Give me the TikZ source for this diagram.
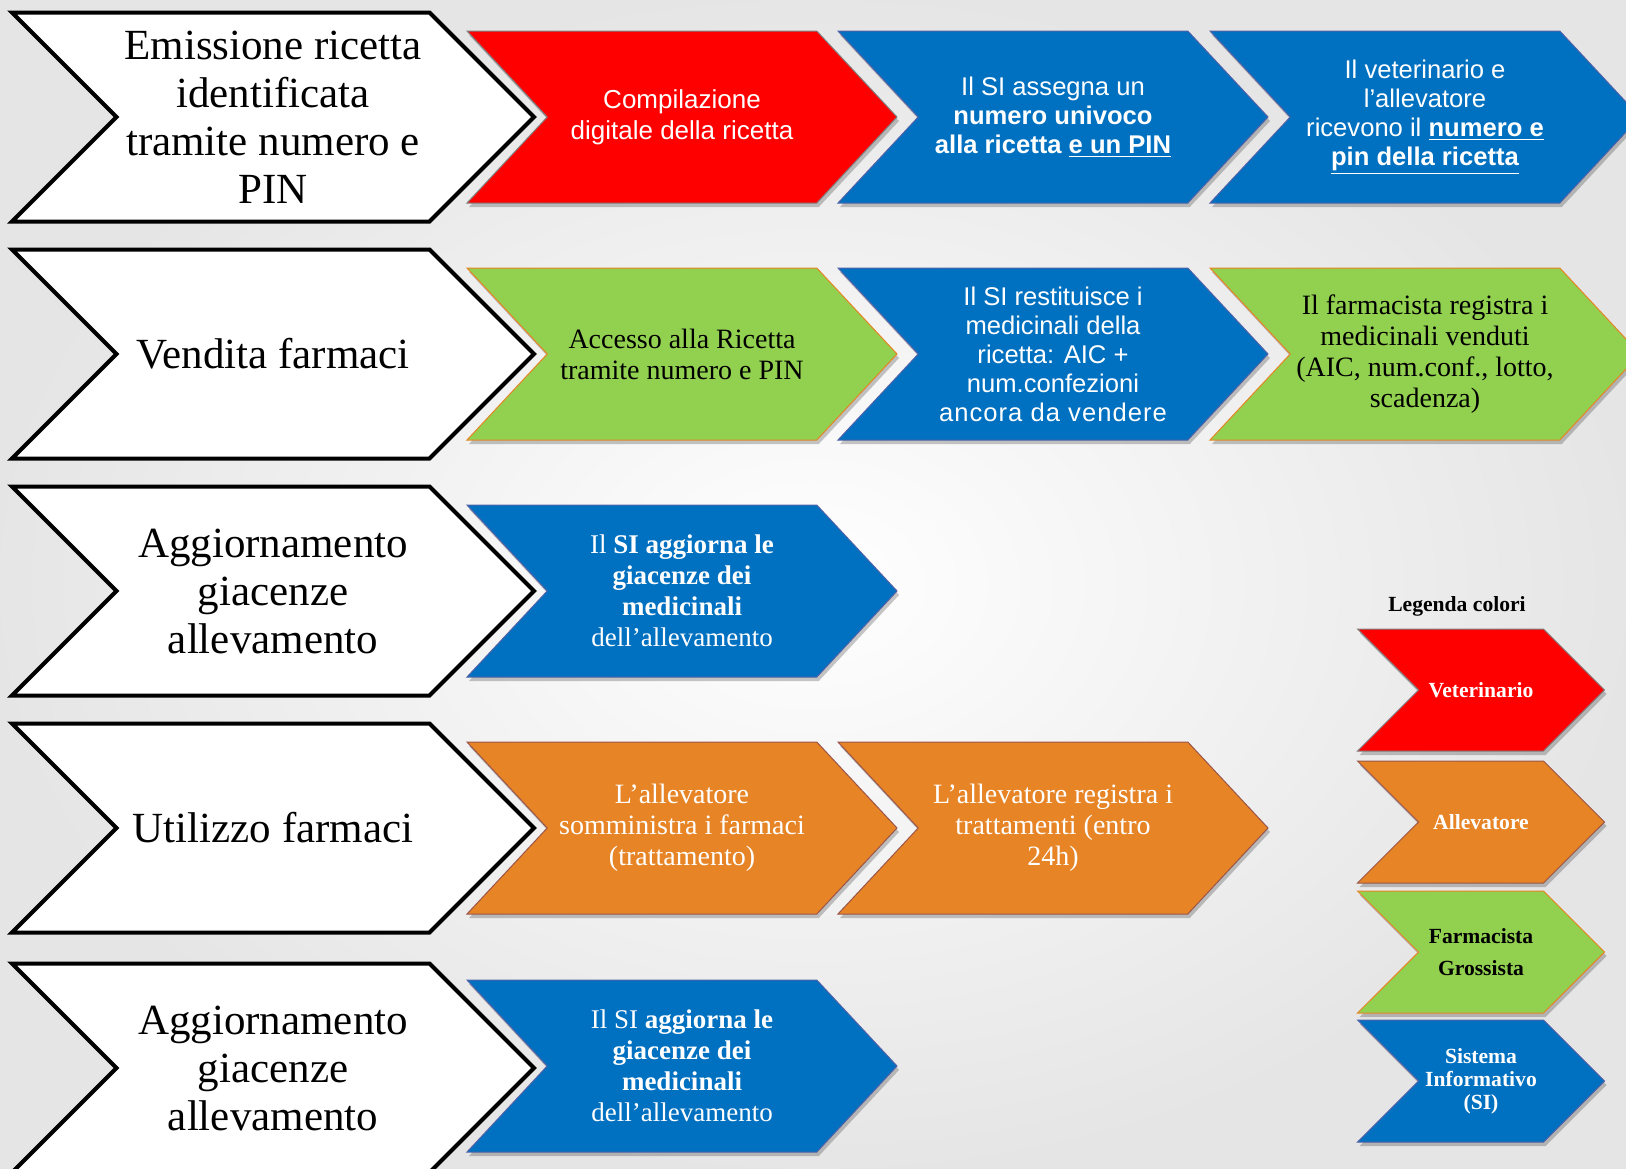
\documentclass[tikz,border=0pt]{standalone}
\usepackage{fontspec}
\setmainfont{Liberation Serif}
\setsansfont{Liberation Sans}
\usetikzlibrary{shapes.symbols,shadows}

\definecolor{vetred}{HTML}{FF0000}
\definecolor{sysblue}{HTML}{0070C0}
\definecolor{farmgreen}{HTML}{92D050}
\definecolor{allorange}{HTML}{E68426}
\definecolor{sysedge}{HTML}{4F62A8}
\definecolor{alledge}{HTML}{9C5548}

\begin{document}
\begin{tikzpicture}[x=0.5pt, y=-0.5pt,
  phase/.style={signal, signal from=west, signal to=east, draw=black, line width=2pt, fill=white,
    minimum width=261pt, minimum height=104.5pt, inner sep=0pt, align=center,
    font=\fontsize{21.5}{24}\selectfont},
  stepbox/.style={signal, signal from=west, signal to=east, signal pointer angle=94, line width=0.5pt,
    minimum width=215pt, minimum height=86pt, inner sep=0pt, align=center,
    drop shadow={shadow xshift=1pt, shadow yshift=-2pt, fill=black, opacity=0.22}},
  keybox/.style={stepbox, signal pointer angle=90, minimum width=123.5pt, minimum height=61pt,
    font=\bfseries\fontsize{10.8}{11.6}\selectfont},
  vet/.style={fill=vetred, draw=gray, text=white},
  sys/.style={fill=sysblue, draw=sysedge, text=white},
  farm/.style={fill=farmgreen, draw=allorange, text=black},
  alle/.style={fill=allorange, draw=alledge, text=white},
  sanstext/.style={font=\sffamily\fontsize{12.8}{14.5}\selectfont},
  seriftext/.style={font=\fontsize{14}{15.5}\selectfont},
  boldtext/.style={font=\fontsize{13.5}{15.5}\selectfont}
]

\useasboundingbox (0,0) rectangle (1626,1168);
\shade[inner color=white, outer color=black!10] (0,0) rectangle (1626,1168);

\node[phase] (w1) at (273,117) {Emissione ricetta\\identificata\\tramite numero e\\PIN};
\node[stepbox, vet, sanstext, font=\sffamily\fontsize{13}{15.5}\selectfont] (s11) at (682,117) {Compilazione\\digitale della ricetta};
\node[stepbox, sys, sanstext] (s12) at (1053,117) {Il SI assegna un\\\textbf{numero univoco}\\\textbf{alla ricetta \underline{e un PIN}}};
\node[stepbox, sys, sanstext] (s13) at (1425,117) {Il veterinario e\\l’allevatore\\ricevono il \underline{\textbf{numero e}}\\\underline{\textbf{pin della ricetta}}};

\node[phase] (w2) at (273,354) {Vendita farmaci};
\node[stepbox, farm, seriftext] (s21) at (682,354) {Accesso alla Ricetta\\tramite numero e PIN};
\node[stepbox, sys, sanstext] (s22) at (1053,354) {Il SI restituisce i\\medicinali della\\ricetta: AIC +\\num.confezioni\\{\addfontfeature{LetterSpace=4}ancora da vendere}};
\node[stepbox, farm, seriftext] (s23) at (1425,354) {Il farmacista registra i\\medicinali venduti\\(AIC, num.conf., lotto,\\scadenza)};

\node[phase] (w3) at (273,591) {Aggiornamento\\giacenze\\allevamento};
\node[stepbox, sys, boldtext] (s31) at (682,591) {Il \textbf{SI aggiorna le}\\\textbf{giacenze dei}\\\textbf{medicinali}\\dell’allevamento};

\node[phase] (w4) at (273,828) {Utilizzo farmaci};
\node[stepbox, alle, seriftext] (s41) at (682,828) {L’allevatore\\somministra i farmaci\\(trattamento)};
\node[stepbox, alle, seriftext] (s42) at (1053,828) {L’allevatore registra i\\trattamenti (entro\\24h)};

\node[phase] (w5) at (273,1068) {Aggiornamento\\giacenze\\allevamento};
\node[stepbox, sys, boldtext] (s51) at (682,1066) {Il SI \textbf{aggiorna le}\\\textbf{giacenze dei}\\\textbf{medicinali}\\dell’allevamento};

\node[font=\bfseries\fontsize{10.8}{12}\selectfont] (key) at (1457,606) {Legenda colori};
\node[keybox, vet] (k1) at (1481,690) {Veterinario};
\node[keybox, alle] (k2) at (1481,822) {Allevatore};
\node[keybox, farm] (k3) at (1481,952) {Farmacista\\[4pt]Grossista};
\node[keybox, sys] (k4) at (1481,1081) {Sistema\\Informativo\\(SI)};

\end{tikzpicture}
\end{document}
